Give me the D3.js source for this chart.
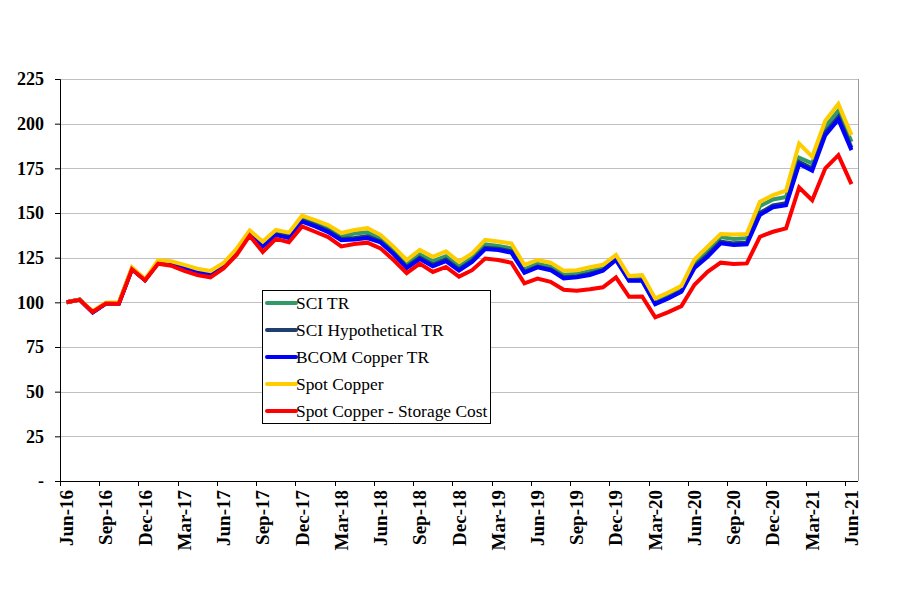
<!DOCTYPE html>
<html><head><meta charset="utf-8">
<script src="https://cdn.jsdelivr.net/npm/d3@7"></script>
<style>body{margin:0;background:#fff;}svg{display:block;}</style>
</head><body>
<svg id="chart" width="900" height="611"></svg>
<script>
const months = ["Jun-16","Jul-16","Aug-16","Sep-16","Oct-16","Nov-16","Dec-16","Jan-17","Feb-17","Mar-17","Apr-17","May-17",
"Jun-17","Jul-17","Aug-17","Sep-17","Oct-17","Nov-17","Dec-17","Jan-18","Feb-18","Mar-18","Apr-18","May-18",
"Jun-18","Jul-18","Aug-18","Sep-18","Oct-18","Nov-18","Dec-18","Jan-19","Feb-19","Mar-19","Apr-19","May-19",
"Jun-19","Jul-19","Aug-19","Sep-19","Oct-19","Nov-19","Dec-19","Jan-20","Feb-20","Mar-20","Apr-20","May-20",
"Jun-20","Jul-20","Aug-20","Sep-20","Oct-20","Nov-20","Dec-20","Jan-21","Feb-21","Mar-21","Apr-21","May-21","Jun-21"];

const sciTR = [100,101.5,94.6,99.5,99.6,119,112.6,122.6,122,119.8,117.5,116.2,
121,128.8,139,132.5,139,137.6,146.8,144.2,141.2,136.8,138.5,139.2,
135.5,129,121.5,126.8,123,125.8,120,124.8,132.5,131.5,130.2,118.5,
121.5,120,115.5,115.8,117.5,119,124.5,112.8,113,100,103.2,107,
121.8,128.8,136.5,135.5,135.8,153.8,157.6,159,181,177.8,198.3,207.3,189.9];

const sciHyp = [100,101.5,94.3,99.3,99.4,118.7,112.4,122.2,121.4,119.2,116.8,115.5,
120.5,128.2,138.5,131.8,138.2,136.8,145.9,143.2,140,135.5,136,137,
134,127.5,119.8,125,121,124,118.5,123.3,130.5,130,128.5,117,
120,118.5,114,114.5,116,118,124,112.3,112.4,99.3,102.5,106.2,
120,126.5,134,133,133.3,150,154.3,155.5,178.5,175,195,203.8,186.5];

const bcomTR = [100,101.5,94.3,99.3,99.4,118.6,112.4,122.2,121.3,119.1,116.7,115.4,
120.4,128,138.2,131.2,137.6,136,145.2,142.5,139.3,134.8,135.2,136,
133.5,127,119.2,124.2,120.2,123,117.8,122.6,129.8,129.3,127.8,116.5,
119.6,118,113.4,114,115.3,117.7,123.7,112.1,112.1,99,102.2,105.9,
119.2,125.5,133,132.1,132.5,148.9,153.2,154.4,177.4,173.7,193.6,202.4,185.2];

const spotCopper = [100,101.5,95,99.8,100,119.5,113,123.5,123,121,118.8,117.5,
122,130,140.3,134,140.5,139,148.5,146,143.2,138.8,140.5,141.5,
137.8,131.2,123.7,129.3,125.5,128.5,122.7,127.4,135,134,133,121,
123.7,122.2,117.7,118,119.6,121,126.5,114.7,115.3,102.2,105.5,109.2,
124,131.1,138.2,138,138.2,156.3,160,162.5,188.9,181.5,201.6,211,193.6];

const spotStorage = [100,101.4,94.6,99.3,99.2,118.5,112.3,121.6,120.5,117.6,115.3,114,
119,126.5,137.3,128.2,135.5,133.6,142.5,139.5,136.5,131.3,132.6,133.4,
130.2,123.7,116.3,121.7,117,119.8,114.4,118,124.5,123.7,122.2,110.6,
113.3,111.5,107,106.5,107.3,108.4,114,103.1,103.3,91.6,94.5,97.9,
109.8,117.1,122.2,121.4,121.8,136.7,139.5,141.4,164.3,157.2,175,182.4,166.2];

const seriesNames = ["SCI TR","SCI Hypothetical TR","BCOM Copper TR","Spot Copper","Spot Copper - Storage Cost"];
const seriesColors = ["#339966","#1F3F6E","#0000FF","#FFCC00","#FF0000"];
const yTicks = [0,25,50,75,100,125,150,175,200,225];
const allSeries = [sciTR, sciHyp, bcomTR, spotCopper, spotStorage];

(function(){
const svg = d3.select("#chart");
const pL = 60, pR = 858, pT = 79, pB = 481;
const font = "Liberation Serif, Times New Roman, DejaVu Serif, serif";

const x = d3.scaleBand().domain(months).range([pL, pR]).padding(0);
const y = d3.scaleLinear().domain([0,225]).range([pB, pT]);

// gridlines
svg.append("g").selectAll("line").data(yTicks.filter(d=>d>0)).join("line")
  .attr("x1", pL).attr("x2", pR)
  .attr("y1", d=>Math.round(y(d))+0.5).attr("y2", d=>Math.round(y(d))+0.5)
  .attr("stroke", "#C0C0C0").attr("stroke-width", 1);
// right border
svg.append("line").attr("x1", pR+0.5).attr("x2", pR+0.5).attr("y1", pT).attr("y2", pB)
  .attr("stroke", "#999").attr("stroke-width", 1);

// y axis
const yAxis = d3.axisLeft(y).tickValues(yTicks).tickSize(5).tickPadding(11)
  .tickFormat(d => d === 0 ? "-" : d);
const gy = svg.append("g").attr("transform", `translate(${pL},0)`).call(yAxis);
gy.attr("font-family", null).attr("font-size", null);
gy.select(".domain").attr("stroke", "#000");
gy.selectAll("text").style("font-family", font).style("font-weight", "bold")
  .style("font-size", "18px").attr("fill", "#000");

// x axis
const tickMonths = months.filter((d,i)=>i%3===0);
const gx = svg.append("g").attr("transform", `translate(0,${pB})`);
gx.append("line").attr("x1", pL).attr("x2", pR).attr("y1", 0.5).attr("y2", 0.5)
  .attr("stroke", "#000");
gx.selectAll("line.tick").data(tickMonths).join("line").attr("class","tick")
  .attr("x1", d=>Math.round(x(d))+0.5).attr("x2", d=>Math.round(x(d))+0.5).attr("y1", 0).attr("y2", 5)
  .attr("stroke", "#000");
gx.selectAll("text").data(tickMonths).join("text")
  .attr("transform", d=>`translate(${x(d)+x.bandwidth()/2+6.5},9) rotate(-90)`)
  .attr("text-anchor", "end")
  .style("font-family", font).style("font-weight", "bold").style("font-size", "19px")
  .text(d=>d);

// lines
const line = d3.line().x((d,i)=>x(months[i]) + x.bandwidth()/2).y(d=>y(d));
allSeries.forEach((s, k) => {
  svg.append("path").datum(s).attr("d", line)
    .attr("fill", "none").attr("stroke", seriesColors[k])
    .attr("stroke-width", 4).attr("stroke-linejoin", "miter");
});

// legend
const lg = svg.append("g");
lg.append("rect").attr("x", 262.5).attr("y", 290.5).attr("width", 228).attr("height", 133)
  .attr("fill", "#fff").attr("stroke", "#000").attr("stroke-width", 1);
seriesNames.forEach((n,k)=>{
  const yy = 303 + k*27;
  lg.append("line").attr("x1", 267).attr("x2", 296).attr("y1", yy).attr("y2", yy)
    .attr("stroke", seriesColors[k]).attr("stroke-width", 4).attr("stroke-linecap","round");
  lg.append("text").attr("x", 296).attr("y", yy+6)
    .style("font-family", font).style("font-size", "17.4px").attr("fill", "#000").text(n);
});
})();
</script>
</body></html>
